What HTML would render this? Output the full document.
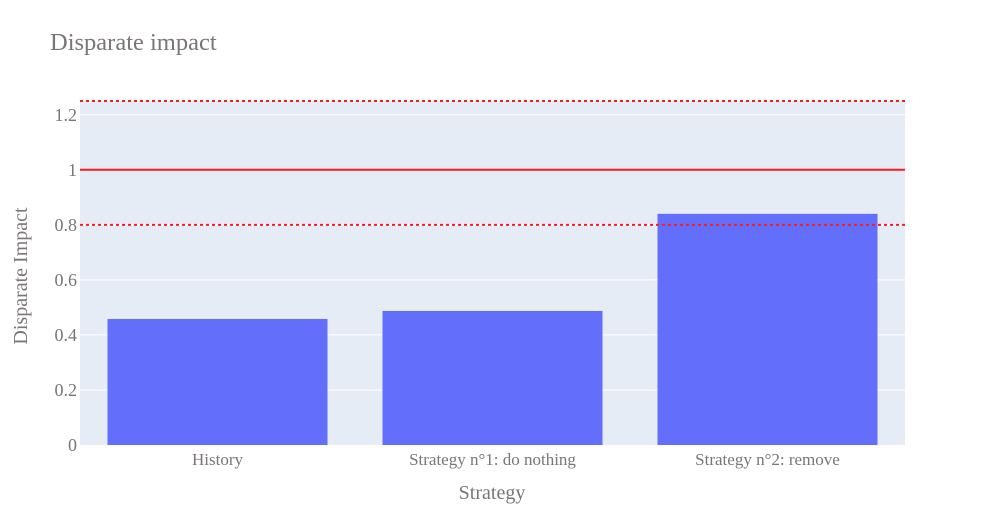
<!DOCTYPE html>
<html><head><meta charset="utf-8"><style>
body{margin:0;background:#fff;}
svg text{font-family:"Liberation Serif",serif;fill:#7a7577;}
</style></head><body>
<svg id="chart" width="985" height="525" xmlns="http://www.w3.org/2000/svg">
<text x="50" y="50" font-size="24.5">Disparate impact</text>
<rect x="80" y="101" width="825" height="344" fill="#e5ecf6"/>
<g id="grid"></g>
<g id="bars"></g>
<g id="refs"></g>
<g id="labels"></g>
<text x="492" y="499" font-size="20" text-anchor="middle">Strategy</text>
<text transform="translate(27,276) rotate(-90)" font-size="20" text-anchor="middle">Disparate Impact</text>
</svg>
<script>
const categories=["History","Strategy n°1: do nothing","Strategy n°2: remove"];
const values=[0.458,0.487,0.84];
const yTicks=[0,0.2,0.4,0.6,0.8,1,1.2];
const yTickLabels=["0","0.2","0.4","0.6","0.8","1","1.2"];
const refLines=[1.25,1,0.8];
const refDashed=[true,false,true];
const X0=80,X1=905,Y0=445,YMAX=1.25,PH=344;
const NS="http://www.w3.org/2000/svg";
function y(v){return Y0-v/YMAX*PH;}
const band=(X1-X0)/categories.length;
function xc(i){return X0+band*(i+0.5);}
function mk(t,a,p){const e=document.createElementNS(NS,t);for(const k in a)e.setAttribute(k,a[k]);p.appendChild(e);return e;}
const grid=document.getElementById('grid'),bars=document.getElementById('bars'),refs=document.getElementById('refs'),labels=document.getElementById('labels');
yTicks.forEach((v,i)=>{
  if(v>0){const l=mk('line',{x1:X0,x2:X1,y1:y(v),y2:y(v),stroke:'#fff','stroke-width':1},grid);
  
  }
  const t=mk('text',{x:X0-3,y:y(v)+6,'font-size':18,'text-anchor':'end'},labels);
  t.textContent=yTickLabels[i];
  
  
});
values.forEach((v,i)=>{
  const w=band*0.8;
  const r=mk('rect',{x:xc(i)-w/2,y:y(v),width:w,height:Y0-y(v),fill:'#636efa'},bars);
  
  
  const t=mk('text',{x:xc(i),y:465,'font-size':17,'text-anchor':'middle'},labels);
  t.textContent=categories[i];
  
  
});
refLines.forEach((v,i)=>{
  const a={x1:X0,x2:X1,y1:y(v),y2:y(v),stroke:'#ff1a1a','stroke-width':2};
  if(refDashed[i])a['stroke-dasharray']='3,3';
  const l=mk('line',a,refs);
  
  
});
</script>
</body></html>
